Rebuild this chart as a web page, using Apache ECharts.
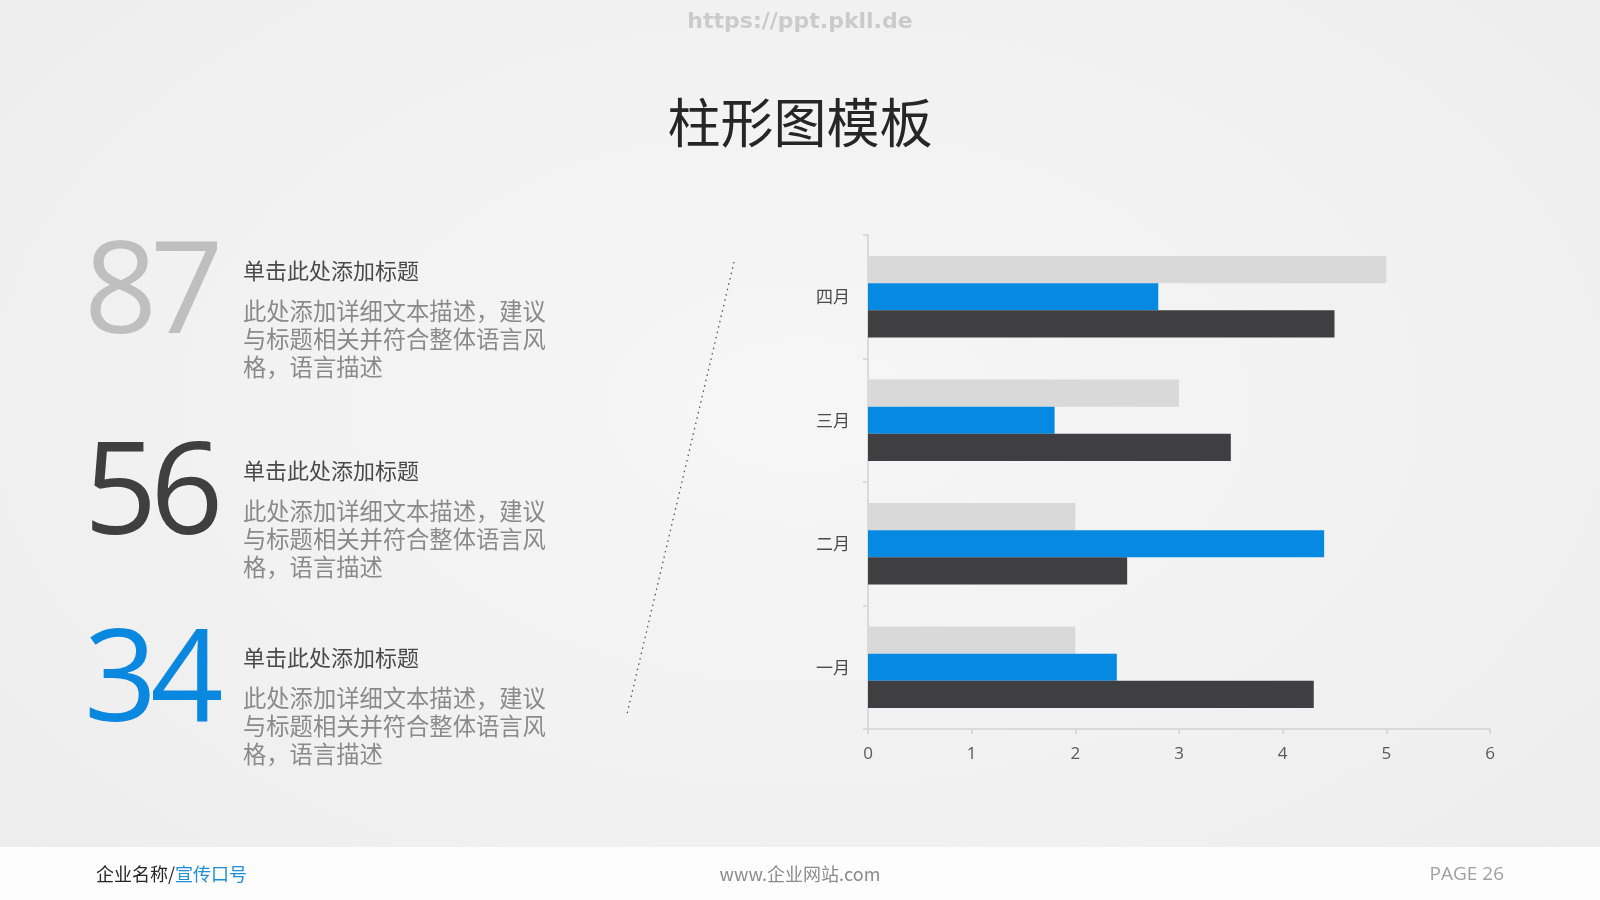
<!DOCTYPE html>
<html lang="zh-CN">
<head>
    <meta charset="UTF-8">
    <title>柱形图模板</title>
    <script src="https://cdn.jsdelivr.net/npm/echarts@6.0.0/dist/echarts.min.js"></script>
    <style>
        * {
            margin: 0;
            padding: 0;
            box-sizing: border-box;
        }
        body {
            width: 1600px;
            height: 900px;
            overflow: hidden;
            position: relative;
            font-family: 'Noto Sans CJK SC', 'Noto Sans', sans-serif;
            background: radial-gradient(ellipse at 50% 45%, #f6f6f6 0%, #f1f1f1 60%, #ececec 100%);
            color: #333;
        }
        #chart {
            position: absolute;
            left: 0;
            top: 0;
            width: 1600px;
            height: 900px;
        }
        .abs {
            position: absolute;
            white-space: nowrap;
        }
        .watermark {
            left: 0;
            width: 1600px;
            top: 7px;
            text-align: center;
            font-family: 'DejaVu Sans', sans-serif;
            font-weight: bold;
            font-size: 22px;
            line-height: 28px;
            color: #cbcbcb;
        }
        .title {
            left: 0;
            width: 1600px;
            top: 88px;
            text-align: center;
            font-size: 53px;
            line-height: 64px;
            color: #262626;
        }
        .big {
            left: 84px;
            font-family: 'Open Sans', sans-serif;
            font-size: 128px;
            line-height: 128px;
            letter-spacing: -7px;
        }
        .head {
            left: 243px;
            font-size: 22px;
            line-height: 28px;
            color: #4a4a4a;
        }
        .desc {
            left: 243px;
            font-size: 23.3px;
            line-height: 28px;
            color: #8a8a8a;
        }
        .footer {
            left: 0;
            top: 847px;
            width: 1600px;
            height: 53px;
            background: #fdfdfd;
        }
        .foot {
            top: 861px;
            font-size: 18px;
            line-height: 24px;
        }
    </style>
</head>
<body>
    <div class="footer abs"></div>
    <div id="chart"></div>

    <div class="abs watermark">https://ppt.pkll.de</div>
    <div class="abs title">柱形图模板</div>

    <div class="abs big" style="top:220px;color:#bfbfbf;">87</div>
    <div class="abs head" style="top:255px;">单击此处添加标题</div>
    <div class="abs desc" style="top:296px;">此处添加详细文本描述，建议<br>与标题相关并符合整体语言风<br>格，语言描述</div>

    <div class="abs big" style="top:421px;color:#3f3f3f;">56</div>
    <div class="abs head" style="top:455px;">单击此处添加标题</div>
    <div class="abs desc" style="top:496px;">此处添加详细文本描述，建议<br>与标题相关并符合整体语言风<br>格，语言描述</div>

    <div class="abs big" style="top:608px;color:#0a88e0;">34</div>
    <div class="abs head" style="top:642px;">单击此处添加标题</div>
    <div class="abs desc" style="top:683px;">此处添加详细文本描述，建议<br>与标题相关并符合整体语言风<br>格，语言描述</div>

    <svg class="abs" style="left:0;top:0;" width="1600" height="900">
        <line x1="734" y1="262" x2="627" y2="714" stroke="#555" stroke-width="1.3" stroke-dasharray="1.5 4"/>
    </svg>

    <div class="abs foot" style="left:96px;color:#262626;">企业名称/<span style="color:#1d8fd5;">宣传口号</span></div>
    <div class="abs foot" style="left:0;width:1600px;text-align:center;color:#8c8c8c;">www.企业网站.com</div>
    <div class="abs foot" style="right:96px;color:#a0a0a0;font-size:19px;font-family:'Open Sans',sans-serif;">PAGE 26</div>

    <script>
        // 数据
        const months = ['一月', '二月', '三月', '四月'];
        const grayValues = [2, 2, 3, 5];
        const blueValues = [2.4, 4.4, 1.8, 2.8];
        const darkValues = [4.3, 2.5, 3.5, 4.5];

        const myChart = echarts.init(document.getElementById('chart'), null, { renderer: 'canvas' });

        const axisColor = '#d2d2d2';

        const option = {
            animation: false,
            grid: {
                left: 868,
                top: 235,
                width: 622,
                height: 494
            },
            xAxis: {
                type: 'value',
                min: 0,
                max: 6,
                interval: 1,
                axisLine: { show: true, lineStyle: { color: axisColor, width: 1.5 } },
                axisTick: { show: true, length: 5, lineStyle: { color: axisColor, width: 1.5 } },
                splitLine: { show: false },
                axisLabel: {
                    fontSize: 17,
                    color: '#595959',
                    margin: 17,
                    fontFamily: 'Open Sans'
                }
            },
            yAxis: {
                type: 'category',
                data: months,
                axisLine: { show: true, lineStyle: { color: axisColor, width: 1.5 } },
                axisTick: { show: true, length: 5, lineStyle: { color: axisColor, width: 1.5 } },
                axisLabel: {
                    fontSize: 17,
                    color: '#4a4a4a',
                    margin: 18,
                    fontFamily: 'Noto Sans CJK SC'
                }
            },
            series: [
                {
                    name: '系列3',
                    type: 'bar',
                    data: grayValues,
                    itemStyle: { color: '#d9d9d9' },
                    barGap: '0%',
                    barCategoryGap: '34%'
                },
                {
                    name: '系列2',
                    type: 'bar',
                    data: blueValues,
                    itemStyle: { color: '#0689e0' },
                    barGap: '0%',
                    barCategoryGap: '34%'
                },
                {
                    name: '系列1',
                    type: 'bar',
                    data: darkValues,
                    itemStyle: { color: '#3f3f41' },
                    barGap: '0%',
                    barCategoryGap: '34%'
                }
            ]
        };

        myChart.setOption(option);
    </script>
</body>
</html>
